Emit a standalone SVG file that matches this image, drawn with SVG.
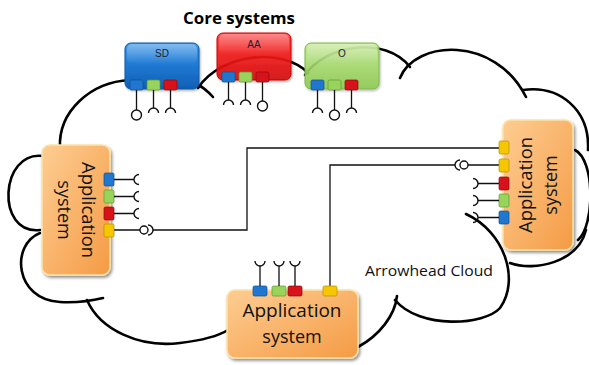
<svg xmlns="http://www.w3.org/2000/svg" xmlns:xlink="http://www.w3.org/1999/xlink" width="589" height="365" viewBox="0 0 589 365">
<style>
.cl{fill:none;stroke:#000;stroke-width:2.6;stroke-linecap:round}
.ln{fill:none;stroke:#111;stroke-width:1.3}
.sym{fill:#fff;stroke:#111;stroke-width:1.4}
.cup{fill:none;stroke:#111;stroke-width:1.4}
.lbl{font-family:"Liberation Sans",Arial,sans-serif;font-size:10px;fill:#1a2233;text-anchor:middle}
.app{font-family:"Open Sans","Liberation Sans",sans-serif;font-size:18px;fill:#111;text-anchor:middle}
.pb{fill:#1f77d0;stroke:#0d4f96;stroke-width:0.7}
.pg{fill:#98d45c;stroke:#5f9a2c;stroke-width:0.7}
.pr{fill:#d8121b;stroke:#8e0a10;stroke-width:0.7}
.py{fill:#f6c600;stroke:#b38f00;stroke-width:0.7}
.gl{fill:url(#gGloss)}
</style>
<defs>
<path id="cup" d="M-5,5 A5,5 0 0 1 5,5"/>
<linearGradient id="gBlue" x1="0" y1="0" x2="0" y2="1"><stop offset="0" stop-color="#3c97e8"/><stop offset="0.5" stop-color="#1f78d2"/><stop offset="1" stop-color="#0f5fb3"/></linearGradient>
<linearGradient id="gRed" x1="0" y1="0" x2="0" y2="1"><stop offset="0" stop-color="#ff3a3a"/><stop offset="0.5" stop-color="#f01818"/><stop offset="1" stop-color="#d40a0a"/></linearGradient>
<linearGradient id="gGreen" x1="0" y1="0" x2="0" y2="1"><stop offset="0" stop-color="#bfe68a"/><stop offset="0.5" stop-color="#a4d96b"/><stop offset="1" stop-color="#8cc94f"/></linearGradient>
<linearGradient id="gOr" x1="0" y1="0" x2="1" y2="1"><stop offset="0" stop-color="#fdcd92"/><stop offset="1" stop-color="#f59b45"/></linearGradient>
<linearGradient id="gGloss" x1="0" y1="0" x2="0" y2="1"><stop offset="0" stop-color="#fff" stop-opacity="0.35"/><stop offset="1" stop-color="#fff" stop-opacity="0"/></linearGradient>
<filter id="sh" x="-20%" y="-20%" width="150%" height="150%"><feDropShadow dx="1.5" dy="2" stdDeviation="1.8" flood-color="#000" flood-opacity="0.45"/></filter>
<filter id="sh2" x="-20%" y="-20%" width="150%" height="150%"><feDropShadow dx="1" dy="1.5" stdDeviation="1.2" flood-color="#000" flood-opacity="0.3"/></filter>
</defs>

<text x="239" y="24" font-family="'Open Sans','Liberation Sans',sans-serif" font-weight="bold" font-size="16" text-anchor="middle" textLength="112" lengthAdjust="spacingAndGlyphs">Core systems</text>

<g id="cloud">
<path class="cl" d="M60,148 C58,112 90,82 130,80"/>
<path class="cl" d="M195,83 Q205,88 213,97"/>
<path class="cl" d="M198,88 C222,52 285,48 308,73"/>
<path class="cl" d="M305,75 C325,45 385,35 410,67"/>
<path class="cl" d="M400,78 C415,40 495,35 526,97"/>
<path class="cl" d="M523,90 C560,85 590,110 588,150"/>
<path class="cl" d="M575,150 C595,160 595,225 578,240"/>
<path class="cl" d="M510,263 C535,272 578,262 586,230"/>
<path class="cl" d="M466,214 C505,232 520,280 500,308 C485,325 420,330 395,300"/>
<path class="cl" d="M358,347 C380,335 395,315 397,296"/>
<path class="cl" d="M87,300 C100,330 140,348 180,343 C205,340 220,335 228,330"/>
<path class="cl" d="M40,233 C10,245 15,300 60,302 C80,303 95,300 103,298"/>
<path class="cl" d="M43,156 C0,150 -5,235 40,230"/>
<text x="429" y="276" font-family="'Open Sans','Liberation Sans',sans-serif" font-size="15" text-anchor="middle" fill="#111" textLength="128" lengthAdjust="spacingAndGlyphs">Arrowhead Cloud</text>
</g>

<g id="connectors">
<path class="ln" d="M114,230 H140 M153,230 H247 V148 H499"/>
<circle class="sym" cx="144" cy="230" r="4"/>
<use href="#cup" class="cup" transform="translate(153,230) rotate(90)"/>
<path class="ln" d="M330,286 V165 H455 M468,165 H499"/>
<circle class="sym" cx="464" cy="165" r="4"/>
<use href="#cup" class="cup" transform="translate(455,165) rotate(-90)"/>
</g>

<g id="SD">
<rect x="125" y="43" width="74" height="46" rx="6" fill="url(#gBlue)" stroke="#0d5aa8" stroke-width="1" filter="url(#sh2)"/>
<rect class="gl" x="127" y="44" width="70" height="20" rx="5"/>
<text class="lbl" x="162" y="57">SD</text>
<rect class="pb" x="130" y="80" width="13" height="10" rx="1.5"/>
<rect class="pg" x="147" y="80" width="13" height="10" rx="1.5"/>
<rect class="pr" x="164" y="80" width="13" height="10" rx="1.5"/>
<path class="ln" d="M136.5,90 V110 M153.5,90 V108 M170.5,90 V108"/>
<circle class="sym" cx="136.5" cy="115" r="5"/>
<use href="#cup" class="cup" transform="translate(153.5,108)"/>
<use href="#cup" class="cup" transform="translate(170.5,108)"/>
</g>

<g id="AA">
<rect x="217" y="33" width="74" height="47" rx="6" fill="url(#gRed)" fill-opacity="0.9" stroke="#c00" stroke-width="1" filter="url(#sh2)"/>
<rect class="gl" x="219" y="34" width="70" height="20" rx="5"/>
<text class="lbl" x="254" y="48">AA</text>
<rect class="pb" x="222" y="72" width="13" height="10" rx="1.5"/>
<rect class="pg" x="239" y="72" width="13" height="10" rx="1.5"/>
<rect class="pr" x="256" y="72" width="13" height="10" rx="1.5"/>
<path class="ln" d="M228.5,82 V100 M245.5,82 V100 M262.5,82 V101"/>
<use href="#cup" class="cup" transform="translate(228.5,100)"/>
<use href="#cup" class="cup" transform="translate(245.5,100)"/>
<circle class="sym" cx="262.5" cy="106" r="5"/>
</g>

<g id="O">
<rect x="305" y="43" width="74" height="46" rx="6" fill="url(#gGreen)" fill-opacity="0.88" stroke="#7db644" stroke-width="1" filter="url(#sh2)"/>
<rect class="gl" x="307" y="44" width="70" height="20" rx="5"/>
<text class="lbl" x="342" y="57">O</text>
<rect class="pb" x="311" y="80" width="13" height="10" rx="1.5"/>
<rect class="pg" x="328" y="80" width="13" height="10" rx="1.5"/>
<rect class="pr" x="345" y="80" width="13" height="10" rx="1.5"/>
<path class="ln" d="M317.5,90 V108 M334.5,90 V110 M351.5,90 V108"/>
<use href="#cup" class="cup" transform="translate(317.5,108)"/>
<circle class="sym" cx="334.5" cy="115" r="5"/>
<use href="#cup" class="cup" transform="translate(351.5,108)"/>
</g>

<g id="app-left">
<rect x="42" y="145" width="68" height="130" rx="8" fill="url(#gOr)" stroke="#fbe3a8" stroke-width="1.5" filter="url(#sh)"/>
<g transform="translate(75,210) rotate(90)">
<text class="app" x="0" y="-7" textLength="96" lengthAdjust="spacingAndGlyphs">Application</text>
<text class="app" x="0" y="17">system</text>
</g>
<rect class="pb" x="104" y="173" width="10" height="13" rx="1.5"/>
<rect class="pg" x="104" y="190" width="10" height="13" rx="1.5"/>
<rect class="pr" x="104" y="207" width="10" height="13" rx="1.5"/>
<rect class="py" x="104" y="224" width="10" height="13" rx="1.5"/>
<path class="ln" d="M114,179.5 H134 M114,196.5 H134 M114,213.5 H134"/>
<use href="#cup" class="cup" transform="translate(134,179.5) rotate(-90)"/>
<use href="#cup" class="cup" transform="translate(134,196.5) rotate(-90)"/>
<use href="#cup" class="cup" transform="translate(134,213.5) rotate(-90)"/>
</g>

<g id="app-right">
<rect x="503" y="120" width="70" height="130" rx="8" fill="url(#gOr)" stroke="#fbe3a8" stroke-width="1.5" filter="url(#sh)"/>
<g transform="translate(538,185) rotate(-90)">
<text class="app" x="0" y="-6" textLength="96" lengthAdjust="spacingAndGlyphs">Application</text>
<text class="app" x="0" y="19">system</text>
</g>
<rect class="py" x="499" y="141" width="10" height="13" rx="1.5"/>
<rect class="py" x="499" y="159" width="10" height="13" rx="1.5"/>
<rect class="pr" x="499" y="177" width="10" height="13" rx="1.5"/>
<rect class="pg" x="499" y="194" width="10" height="13" rx="1.5"/>
<rect class="pb" x="499" y="211" width="10" height="13" rx="1.5"/>
<path class="ln" d="M499,183.5 H478 M499,200.5 H478 M499,217.5 H478"/>
<use href="#cup" class="cup" transform="translate(478,183.5) rotate(90)"/>
<use href="#cup" class="cup" transform="translate(478,200.5) rotate(90)"/>
<use href="#cup" class="cup" transform="translate(478,217.5) rotate(90)"/>
</g>

<g id="app-bottom">
<rect x="227" y="290" width="131" height="68" rx="8" fill="url(#gOr)" stroke="#fbe3a8" stroke-width="1.5" filter="url(#sh)"/>
<text class="app" x="292" y="317" textLength="99" lengthAdjust="spacingAndGlyphs">Application</text>
<text class="app" x="292" y="343">system</text>
<rect class="pb" x="253" y="286" width="14" height="10" rx="1.5"/>
<rect class="pg" x="272" y="286" width="14" height="10" rx="1.5"/>
<rect class="pr" x="288" y="286" width="14" height="10" rx="1.5"/>
<rect class="py" x="323" y="286" width="14" height="10" rx="1.5"/>
<path class="ln" d="M260,286 V266 M279,286 V266 M295,286 V266"/>
<use href="#cup" class="cup" transform="translate(260,266) rotate(180)"/>
<use href="#cup" class="cup" transform="translate(279,266) rotate(180)"/>
<use href="#cup" class="cup" transform="translate(295,266) rotate(180)"/>
</g>
</svg>
